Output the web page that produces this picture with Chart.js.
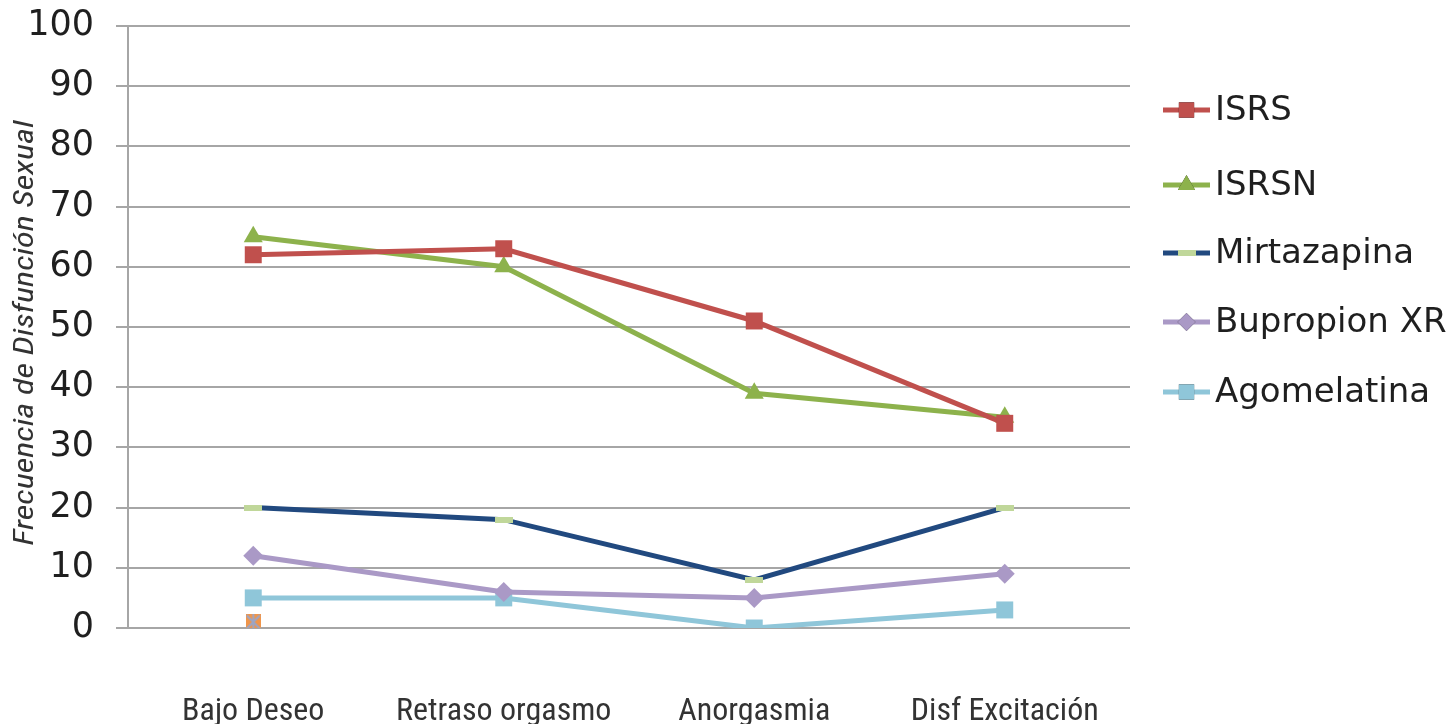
<!DOCTYPE html>
<html>
<head>
<meta charset="utf-8">
<script src="https://cdn.jsdelivr.net/npm/chart.js@4.4.1/dist/chart.umd.min.js"></script>
<style>
  html, body { margin: 0; padding: 0; background: #ffffff; }
  #wrap { width: 1451px; height: 724px; position: relative; }
</style>
</head>
<body>
<div id="wrap"><canvas id="c" width="1451" height="724"></canvas></div>
<script>
// Categories and values (percent of patients reporting each dysfunction)
const categories = ['Bajo Deseo', 'Retraso orgasmo', 'Anorgasmia', 'Disf Excitación'];
const isrs        = [62, 63, 51, 34];
const isrsn       = [65, 60, 39, 35];
const mirtazapina = [20, 18, 8, 20];
const bupropion   = [12, 6, 5, 9];
const agomelatina = [5, 5, 0, 3];
const extraPoint  = [1, null, null, null];
const yTicks      = [0, 10, 20, 30, 40, 50, 60, 70, 80, 90, 100];
const yTitle      = 'Frecuencia de Disfunción Sexual';

const TICK_FONT = "'DejaVu Sans', Verdana, sans-serif";
const NARROW_FONT = "'Liberation Sans Narrow', 'Roboto Condensed', 'Liberation Sans', sans-serif";

// Small bitmap markers
function dashMarker(color) {
  const cv = document.createElement('canvas');
  cv.width = 18; cv.height = 6;
  const g = cv.getContext('2d');
  g.fillStyle = color;
  g.fillRect(0, 0, 18, 6);
  return cv;
}
function crossSquareMarker() {
  const cv = document.createElement('canvas');
  cv.width = 15; cv.height = 15;
  const g = cv.getContext('2d');
  g.fillStyle = '#f0954a';
  g.fillRect(0, 0, 15, 15);
  g.strokeStyle = '#9aa6c8';
  g.lineWidth = 2;
  g.beginPath();
  g.moveTo(1, 1); g.lineTo(14, 14);
  g.moveTo(14, 1); g.lineTo(1, 14);
  g.moveTo(7.5, 0); g.lineTo(7.5, 15);
  g.stroke();
  return cv;
}

const mirtMarker = dashMarker('#c0d79a');

const datasets = [
  { label: 'ISRS', data: isrs, borderColor: '#c0504d', backgroundColor: '#c0504d',
    pointStyle: 'rect', pointRadius: 12, pointHoverRadius: 12, borderWidth: 5, pointBorderWidth: 0 },
  { label: 'ISRSN', data: isrsn, borderColor: '#8db24c', backgroundColor: '#8db24c',
    pointStyle: 'triangle', pointRadius: 11, pointHoverRadius: 11, borderWidth: 5, pointBorderWidth: 0 },
  { label: 'Mirtazapina', data: mirtazapina, borderColor: '#21497f', backgroundColor: '#c0d79a',
    pointStyle: mirtMarker, pointRadius: 9, borderWidth: 5, pointBorderWidth: 0 },
  { label: 'Bupropion XR', data: bupropion, borderColor: '#aa99c6', backgroundColor: '#aa99c6',
    pointStyle: 'rectRot', pointRadius: 10, pointHoverRadius: 10, borderWidth: 5, pointBorderWidth: 0 },
  { label: 'Agomelatina', data: agomelatina, borderColor: '#8fc6d9', backgroundColor: '#8fc6d9',
    pointStyle: 'rect', pointRadius: 12, pointHoverRadius: 12, borderWidth: 5, pointBorderWidth: 0 },
  { label: '', data: extraPoint, borderColor: '#f0954a', backgroundColor: '#f0954a',
    pointStyle: crossSquareMarker(), pointRadius: 8, borderWidth: 0, showLine: false, inLegend: false }
];
// Draw order: first series on top
datasets.forEach((d, i) => { d.order = i; d.fill = false; d.tension = 0; });

// Legend drawn on the right with a line + marker sample per series, plus the y-axis title
const sideLegend = {
  id: 'sideLegend',
  afterDraw(chart) {
    const ctx = chart.ctx;
    const rows = [110, 185, 253, 322, 392];
    ctx.save();
    chart.data.datasets.filter(d => d.inLegend !== false).forEach((d, i) => {
      const y = rows[i];
      const x0 = 1163, x1 = 1210;
      ctx.strokeStyle = d.borderColor;
      ctx.lineWidth = 5;
      ctx.beginPath(); ctx.moveTo(x0, y); ctx.lineTo(x1, y); ctx.stroke();
      const cx = (x0 + x1) / 2;
      if (d.pointStyle instanceof HTMLCanvasElement) {
        ctx.drawImage(d.pointStyle, cx - d.pointStyle.width / 2, y - d.pointStyle.height / 2);
      } else {
        Chart.helpers.drawPoint(ctx, {
          pointStyle: d.pointStyle, radius: d.pointRadius * 0.9, rotation: 0, borderWidth: 0
        }, cx, y);
        ctx.fillStyle = d.backgroundColor;
        ctx.fill();
      }
      ctx.fillStyle = '#1f1f1f';
      ctx.font = '34px ' + TICK_FONT;
      ctx.textBaseline = 'middle';
      ctx.textAlign = 'left';
      ctx.fillText(d.label, 1215, y + 1);
    });
    // rotated y-axis title, stretched to its span along the axis
    ctx.translate(26, 333);
    ctx.rotate(-Math.PI / 2);
    ctx.font = 'italic 28px ' + NARROW_FONT;
    const w = ctx.measureText(yTitle).width;
    ctx.scale(425 / w, 1);
    ctx.fillStyle = '#333333';
    ctx.textAlign = 'center';
    ctx.textBaseline = 'middle';
    ctx.fillText(yTitle, 0, 0);
    ctx.restore();
  }
};

new Chart(document.getElementById('c'), {
  type: 'line',
  data: { labels: categories, datasets },
  options: {
    responsive: false,
    animation: false,
    events: [],
    layout: { padding: { left: 0, right: 321, top: 26, bottom: 0 } },
    plugins: { legend: { display: false }, tooltip: { enabled: false } },
    scales: {
      x: {
        offset: true,
        grid: { display: false, drawTicks: false },
        border: { display: false },
        ticks: { color: '#333333', font: { family: NARROW_FONT, size: 32 }, padding: 65, maxRotation: 0 },
        afterFit(s) { s.height = 96; s.paddingLeft = 0; s.paddingRight = 0; }
      },
      y: {
        min: 0, max: 100,
        afterBuildTicks(s) { s.ticks = yTicks.map(v => ({ value: v })); },
        grid: { color: '#a6a6a6', lineWidth: 2, tickLength: 12, drawTicks: true },
        border: { display: true, color: '#a6a6a6', width: 2 },
        ticks: { color: '#1f1f1f', font: { family: TICK_FONT, size: 35 }, padding: 22 },
        afterFit(s) { s.width = 128; s.paddingTop = 0; s.paddingBottom = 0; }
      }
    }
  },
  plugins: [sideLegend]
});
</script>
</body>
</html>
